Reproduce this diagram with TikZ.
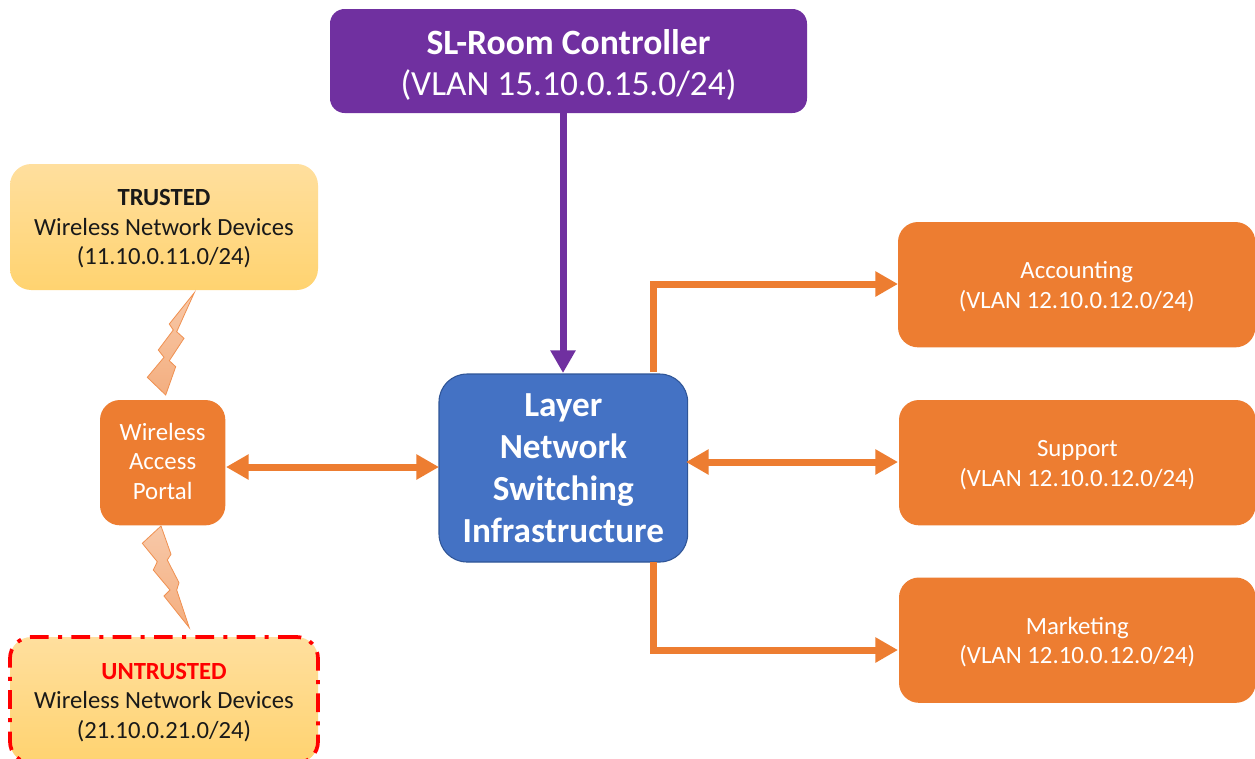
\documentclass[tikz,border=0pt]{standalone}
\usepackage{fontspec}
\setmainfont{Carlito}
\usetikzlibrary{arrows.meta}
\newcommand{\fsz}[1]{\fontsize{#1}{#1}\selectfont}
\newcommand{\topup}[1]{\rule{0pt}{\dimexpr 0.75em+#1\relax}}
\newcommand{\botup}[1]{\rule[-\dimexpr 0.2em+#1\relax]{0pt}{\dimexpr 0.2em+#1\relax}}
\definecolor{orng}{HTML}{ED7D31}
\definecolor{purp}{HTML}{7030A0}
\definecolor{blu}{HTML}{4472C4}
\definecolor{blue2}{HTML}{2F5597}
\definecolor{yellowtop}{HTML}{FFDF9E}
\definecolor{yellowbot}{HTML}{FFD370}
\tikzset{
  x=0.75pt,y=-0.75pt,
  box/.style={rounded corners=#1, inner sep=0pt, outer sep=0pt, align=center, anchor=north west},
  box/.default=15pt,
  orangebox/.style={box=15pt, fill=orng, text=white, font=\fsz{18.6}},
  wifibox/.style={box=16pt, top color=yellowtop, bottom color=yellowbot, text=black!90, font=\fsz{18.5}},
  wire/.style={line width=5.25pt, orng, -{Triangle[length=17pt,width=18pt]}},
  biwire/.style={line width=5.25pt, orng, {Triangle[length=17pt,width=18pt]}-{Triangle[length=17pt,width=18pt]}},
  purplewire/.style={line width=5.25pt, purp, -{Triangle[length=17pt,width=18pt]}},
  bolt/.style={draw=orng!85!white, line width=0.6pt, top color=orng!42!white, bottom color=orng!62!white, line join=miter},
}
\begin{document}
\begin{tikzpicture}
\useasboundingbox (0,0) rectangle (1255,758);
\fill[white] (0,0) rectangle (1255,758);

% boxes
\node[box=11pt, fill=purp, text=white, minimum width=357.75pt, minimum height=78pt] (ctrl) at (330,9)
  {{\fsz{26.7}\bfseries\topup{4.5pt}SL-Room Controller}\\[10.7pt]{\fsz{26.5}(VLAN 15.10.0.15.0/24)}};
\node[wifibox, minimum width=231pt, minimum height=94.5pt] (trusted) at (10,164)
  {\topup{1pt}{\bfseries TRUSTED}\\[3.6pt]Wireless Network Devices\\[3.6pt](11.10.0.11.0/24)};
\node[wifibox, minimum width=231pt, minimum height=94.5pt, draw=red, line width=2.8pt,
      dash pattern=on 14pt off 7pt on 3pt off 7pt] (untrusted) at (10,637)
  {\topup{1.5pt}{\bfseries\color{red} UNTRUSTED}\\[3.6pt]Wireless Network Devices\\[3.6pt](21.10.0.21.0/24)};
\node[orangebox, minimum width=94pt, minimum height=94pt] (portal) at (100,400)
  {Wireless\\[3.5pt]Access\\[3.5pt]Portal\botup{-1.5pt}};
\node[box=21pt, fill=blu, draw=blue2, line width=0.8pt, text=white, minimum width=186.5pt, minimum height=141pt,
      font=\fsz{26.4}\bfseries] (layer) at (439,374)
  {Layer\\[5.2pt]Network\\[5.2pt]Switching\\[5.2pt]Infrastructure};
\node[orangebox, minimum width=268pt, minimum height=94pt] (acct) at (898,222)
  {\topup{2pt}Accounting\\[3.5pt](VLAN 12.10.0.12.0/24)};
\node[orangebox, minimum width=267.5pt, minimum height=94pt] (supp) at (899,400)
  {\topup{2pt}Support\\[3.5pt](VLAN 12.10.0.12.0/24)};
\node[orangebox, minimum width=267.5pt, minimum height=94pt] (mark) at (899,577.5)
  {\topup{2pt}Marketing\\[3.5pt](VLAN 12.10.0.12.0/24)};

% connectors
\coordinate (ctrlS) at (563,113);
\coordinate (layerN) at (563,373);
\draw[purplewire] (ctrlS) -- (layerN);

\coordinate (pR) at (226,467);
\coordinate (lL) at (439,467);
\draw[biwire] (pR) -- (lL);

\coordinate (lR) at (686,462);
\coordinate (sL) at (898,462);
\draw[biwire] (lR) -- (sL);

\coordinate (lT) at (653,372);
\coordinate (aL) at (898,284);
\draw[wire] (lT) |- (aL);

\coordinate (lB) at (653,562);
\coordinate (mL) at (898,650);
\draw[wire] (lB) |- (mL);

% lightning
\draw[bolt] (194.3,292.7) -- (169.3,324) -- (173.3,330) -- (158.3,350) -- (164,357.3) -- (147.3,377.3)
  -- (165.7,395) -- (175.7,366.7) -- (169.3,360.7) -- (184,338.3) -- (176.7,331.7) -- cycle;
\draw[bolt] (161,526) -- (142.3,543.3) -- (157.3,561.7) -- (153.3,570) -- (170,590) -- (164,596)
  -- (189.3,627.7) -- (176.7,590) -- (179,582.7) -- (167.3,560) -- (171,554.3) -- cycle;
\end{tikzpicture}
\end{document}
